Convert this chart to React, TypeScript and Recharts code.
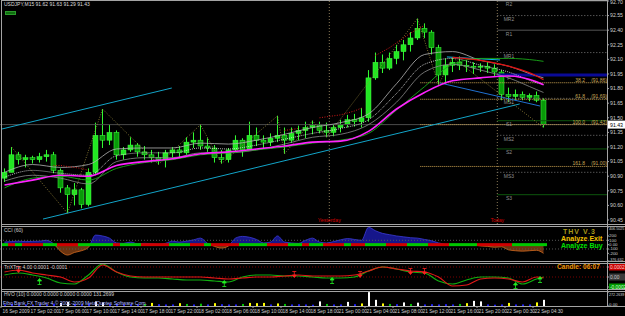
import React from "react";
import {
  ComposedChart,
  Bar,
  Line,
  Area,
  Scatter,
  XAxis,
  YAxis,
  ReferenceLine,
  Cell,
} from "recharts";

// USDJPY M15, read back as hourly bars: 16 Sep 2009 22:00 -> 22 Sep 05:00
const OPEN = [
  90.88, 90.94, 91.12, 91.07, 91.09, 91.07, 91.1, 91.12, 90.96, 90.78,
  90.71, 90.76, 90.61, 90.94, 91.32, 91.27, 91.35, 91.12, 91.17, 91.22,
  91.15, 91.12, 91.09, 91.07, 91.14, 91.17, 91.14, 91.25, 91.27, 91.21,
  91.19, 91.09, 91.07, 91.17, 91.27, 91.17, 91.32, 91.27, 91.25, 91.29,
  91.32, 91.27, 91.34, 91.37, 91.4, 91.42, 91.37, 91.35, 91.4, 91.43,
  91.48, 91.46, 91.5, 91.91, 92.07, 92.01, 92.11, 92.18, 92.25, 92.32,
  92.42, 92.38, 92.22, 91.94, 92.04, 92.07, 92.04, 92.03, 92.02, 92.03,
  92.01, 91.97, 91.74, 91.72, 91.74, 91.71, 91.73, 91.68,
];
const HIGH = [
  90.98, 91.2, 91.15, 91.12, 91.11, 91.14, 91.17, 91.15, 90.98, 90.81,
  90.83, 90.78, 90.98, 91.45, 91.59, 91.43, 91.37, 91.2, 91.3, 91.24,
  91.21, 91.17, 91.15, 91.17, 91.2, 91.21, 91.3, 91.35, 91.43, 91.29,
  91.22, 91.17, 91.19, 91.32, 91.29, 91.46, 91.4, 91.32, 91.34, 91.52,
  91.4, 91.4, 91.42, 91.46, 91.47, 91.46, 91.45, 91.43, 91.48, 91.53,
  91.54, 91.6, 91.99, 92.17, 92.15, 92.17, 92.25, 92.3, 92.38, 92.52,
  92.47, 92.4, 92.25, 92.11, 92.12, 92.13, 92.09, 92.07, 92.06, 92.07,
  92.05, 91.99, 91.81, 91.79, 91.77, 91.75, 91.77, 91.7,
];
const LOW = [
  90.84, 90.94, 91.02, 90.99, 91.03, 91.04, 91.05, 90.93, 90.73, 90.52,
  90.6, 90.57, 90.59, 90.91, 91.19, 91.22, 91.07, 91.07, 91.15, 91.1,
  91.07, 91.04, 91.02, 90.99, 91.09, 91.09, 91.12, 91.19, 91.17, 91.15,
  91.04, 91.03, 91.04, 91.15, 91.1, 91.17, 91.21, 91.19, 91.21, 91.25,
  91.13, 91.24, 91.27, 91.29, 91.33, 91.34, 91.3, 91.31, 91.35, 91.4,
  91.41, 91.4, 91.46, 91.89, 91.96, 91.99, 92.05, 92.09, 92.18, 92.3,
  92.32, 92.15, 91.84, 91.85, 91.97, 91.99, 91.97, 91.95, 91.97, 91.96,
  91.93, 91.68, 91.66, 91.68, 91.68, 91.67, 91.66, 91.4,
];
const CLOSE = [
  90.94, 91.12, 91.07, 91.09, 91.07, 91.1, 91.12, 90.96, 90.78, 90.71,
  90.76, 90.61, 90.94, 91.32, 91.27, 91.35, 91.12, 91.17, 91.22, 91.15,
  91.12, 91.09, 91.07, 91.14, 91.17, 91.14, 91.25, 91.27, 91.21, 91.19,
  91.09, 91.07, 91.17, 91.27, 91.17, 91.32, 91.27, 91.25, 91.29, 91.32,
  91.27, 91.34, 91.37, 91.4, 91.42, 91.37, 91.35, 91.4, 91.43, 91.48,
  91.46, 91.5, 91.91, 92.07, 92.01, 92.11, 92.18, 92.25, 92.32, 92.42,
  92.38, 92.22, 91.94, 92.04, 92.07, 92.04, 92.03, 92.02, 92.03, 92.01,
  91.97, 91.74, 91.72, 91.74, 91.71, 91.73, 91.68, 91.43,
];

// averages and ribbon, read every 4 bars (plus the last one)
const MA_BARS = [0, 4, 8, 12, 16, 20, 24, 28, 32, 36, 40, 44, 48, 52, 56, 60, 64, 68, 72, 76, 77];
const MA_SLOW = [90.81, 90.86, 90.91, 90.9, 91.01, 91.05, 91.08, 91.13, 91.15, 91.18, 91.21, 91.25, 91.26, 91.36, 91.59, 91.76, 91.88, 91.91, 91.93, 91.87, 91.84];
const BAND_UP = [90.94, 91.02, 90.99, 91.02, 91.18, 91.19, 91.19, 91.24, 91.23, 91.27, 91.33, 91.4, 91.45, 91.54, 91.85, 92.15, 92.18, 92.09, 92.03, 91.93, 91.91];
const BAND_MID = [90.89, 90.96, 90.93, 90.91, 91.11, 91.14, 91.14, 91.19, 91.18, 91.22, 91.28, 91.34, 91.39, 91.48, 91.75, 92.05, 92.11, 92.04, 91.97, 91.86, 91.84];
const BAND_LO = [90.85, 90.91, 90.88, 90.82, 91.05, 91.09, 91.09, 91.14, 91.14, 91.17, 91.23, 91.3, 91.33, 91.43, 91.66, 91.97, 92.05, 91.99, 91.91, 91.79, 91.76];
const MA_GREEN = [90.78, 90.88, 90.9, 90.86, 90.98, 91.04, 91.07, 91.12, 91.14, 91.17, 91.2, 91.24, 91.27, 91.34, 91.58, 91.82, 92.05, 92.11, 92.11, 92.09, 92.08];

const RED_BARS = [64, 68, 72, 76, 77];
const RED_LINE = [92.12, 92.09, 92.03, 91.93, 91.89];

const STOP_BARS = [7, 8, 9, 10, 11, 12, 40, 41, 42, 45, 46, 47, 48, 49, 50, 51, 53, 54, 55, 56, 57, 58, 59, 60];
const STOP_VALS = [91.01, 91.01, 91.0, 90.99, 90.98, 90.96, 91.37, 91.38, 91.39, 91.5, 91.51, 91.52, 91.53, 91.55, 91.57, 91.6, 92.14, 92.18, 92.22, 92.27, 92.32, 92.37, 92.41, 92.45];

const ZZ_BARS = [1, 9, 14, 22, 28, 31, 39, 40, 44, 46, 59, 62, 64, 77];
const ZZ_VALS = [91.2, 90.52, 91.59, 91.02, 91.43, 91.03, 91.52, 91.13, 91.47, 91.3, 92.52, 91.84, 92.12, 91.4];

// trend lines, [bar, price]
const UPPER_CH = [[-0.36, 91.385], [23.9, 91.806]];
const LOWER_CH = [[5.5, 90.46], [73.6, 91.642]];
const FALL_LINE = [[62.2, 91.858], [76.5, 91.621]];
const TOP_LINE = [[63.2, 92.125], [70.8, 92.094]];

const FIB_LEVELS = ["38.2", "61.8", "100.0", "161.8"];
const FIB_PRICES = [91.86, 91.69, 91.43, 91.0];
const FIB_FROM = 59.4;

const PIVOT_NAMES = ["R2", "MR2", "R1", "MR1", "P", "MS1", "S1", "MS2", "S2", "MS3", "S3"];
const PIVOT_PRICES = [92.7, 92.55, 92.4, 92.17, 91.94, 91.7, 91.47, 91.32, 91.18, 90.94, 90.71];

const DAY_BARS = [46.4, 70.4];
const DAY_NAMES = ["Yesterday", "Today"];

const PRICE_TICKS = [92.7, 92.55, 92.4, 92.25, 92.1, 91.95, 91.8, 91.65, 91.5, 91.35, 91.2, 91.05, 90.9, 90.75, 90.6, 90.45];

const TIME_BARS = [0, 4, 8, 12, 16, 20, 24, 28, 32, 36, 40, 44, 48, 52, 56, 60, 64, 68, 72, 76];
const TIME_LABELS = [
  "16 Sep 2009", "17 Sep 02:00", "17 Sep 06:00", "17 Sep 10:00", "17 Sep 14:00",
  "17 Sep 18:00", "17 Sep 22:00", "18 Sep 02:00", "18 Sep 06:00", "18 Sep 10:00",
  "18 Sep 14:00", "18 Sep 18:00", "21 Sep 00:00", "21 Sep 04:00", "21 Sep 08:00",
  "21 Sep 12:00", "21 Sep 16:00", "21 Sep 20:00", "22 Sep 00:30", "22 Sep 04:30",
];

// CCI(60), hourly
const CCI = [
  60, 70, 80, 70, 75, 80, 100, 20, -150, -240,
  -180, -140, -60, 220, 200, 150, 40, 30, 60, 20,
  30, 20, 10, 30, 80, 60, 80, 110, 150, 30,
  -40, -80, -30, 150, 190, 170, 120, 40, 60, 200,
  60, 40, 30, 100, 150, 60, 40, 70, 110, 140,
  120, 100, 400, 320, 260, 230, 200, 180, 160, 150,
  120, 90, 40, 10, 0, -10, 5, -5, -30, -40,
  -60, -50, -120, -140, -150, -140, -130, -200,
];
const CCI_MAX = 406.5025;
const CCI_MIN = -376.632;
const CCI_TICKS = [406.5025, 200, 100, 0, -100, -200, -376.632];
const CCI_TICK_TEXT = ["406.5025", "200", "100", "0.00", "-100", "-200", "-376.632"];
const TREND = ("grgrrrggrr" + "rgggggrggg" + "rrrrgggrrg" + "rrrrggggrr" + "rggrggrrrg" + "rrgggrrrgg" + "grrrggggrr" + "rrrggggg").split("");

// TriX, units of 0.0001, every 2 bars (plus the last)
const TRIX_BARS = [0, 2, 4, 6, 8, 10, 12, 14, 16, 18, 20, 22, 24, 26, 28, 30, 32, 34, 36, 38, 40, 42, 44, 46, 48, 50, 52, 54, 56, 58, 60, 62, 64, 66, 68, 70, 72, 74, 76, 77];
const TRIX_RED = [1.0, 1.4, 0.8, 0.4, 0, -1.0, -0.2, 2.4, 1.0, 0.2, 0, 0, 0, 0, 0, -0.2, -0.4, -0.2, 0, 0, 0.2, 0.4, 0.2, 0.2, 0.2, 0.4, 1.2, 2.0, 1.6, 1.2, 1.0, 0, -1.8, -1.6, -0.4, -0.2, -0.4, -1.0, 0, -0.2];
const TRIX_GREEN = [0.4, 0.8, 0.4, -0.2, -1.2, -1.4, 0.4, 2.6, 1.0, 0, -0.2, -0.2, -0.4, -0.6, -0.6, -0.8, -1.0, 0, 0.4, 0.4, 0.2, 0.2, 0, -0.2, -0.2, 0, 1.2, 2.0, 1.6, 1.0, 0.8, -0.8, -1.4, -0.6, 0, 0, -0.2, -1.4, -0.4, 0];
const ARROW_DN_BARS = [2, 41.4, 50.8, 58, 60];
const ARROW_DN_VALS = [1.4, 0.4, 0.4, 1.0, 1.0];
const ARROW_UP_BARS = [5, 31.4, 46.8, 73, 76.5];
const ARROW_UP_VALS = [-0.8, -1.2, -0.6, -1.6, -0.4];
const TRIX_BOX_VALUES = [2, 0, -2];
const TRIX_BOX_TEXT = ["0.0002", "0.00", "-0.0002"];

// HVO volume, hourly, with its colour class
const VOL = [
  30, 40, 25, 30, 25, 35, 30, 45, 60, 80,
  40, 35, 50, 90, 70, 45, 40, 30, 35, 30,
  40, 60, 35, 30, 30, 55, 40, 30, 45, 30,
  55, 35, 30, 30, 40, 60, 55, 60, 30, 50,
  40, 30, 35, 30, 25, 90, 40, 30, 30, 80,
  35, 50, 270, 120, 50, 40, 35, 70, 40, 65,
  30, 35, 30, 35, 30, 40, 55, 100, 90, 30,
  25, 30, 60, 30, 30, 30, 70, 120,
];
const VOL_KIND = ("bbbbbbbbww" + "bbbwwbbbbb" + "gybbbygbgb" + "ybbbgyyyby" + "gbbbbwgbbw" + "bywwygbwgw" + "bbbbbgywwb" + "bbybbbyw").split("");
const VOL_MAX = 272.2639;
const VOL_TICKS = [272.2639, 0];
const VOL_TICK_TEXT = ["272.2639", "0.00"];

const X0 = -0.643;
const X1 = 86.07;
const P_MIN = 90.409;
const P_MAX = 92.71;

const FRAME = "#a4a4a4";
const AXIS_TXT = "#cfcfcf";
const VOL_COLORS: Record<string, string> = { b: "#2020ff", y: "#ffff00", g: "#00c000", w: "#ffffff" };
const TRIX_BOX_FILL = ["#c80000", "#3a3a3a", "#009a00"];
const TRIX_BOX_INK = ["#ffd0d0", "#c8c8c8", "#d8ffd8"];

const pick = (bars: number[], vals: number[], i: number) => {
  const k = bars.indexOf(i);
  return k >= 0 ? vals[k] : null;
};

const rows = OPEN.map((o, i) => ({
  i,
  o,
  h: HIGH[i],
  l: LOW[i],
  c: CLOSE[i],
  range: [LOW[i], HIGH[i]],
  slow: pick(MA_BARS, MA_SLOW, i),
  up: pick(MA_BARS, BAND_UP, i),
  mid: pick(MA_BARS, BAND_MID, i),
  lo: pick(MA_BARS, BAND_LO, i),
  grn: pick(MA_BARS, MA_GREEN, i),
  red: pick(RED_BARS, RED_LINE, i),
  stop: pick(STOP_BARS, STOP_VALS, i),
  zz: pick(ZZ_BARS, ZZ_VALS, i),
  cci: CCI[i],
  zero: 0,
  trend: TREND[i],
  trixR: pick(TRIX_BARS, TRIX_RED, i),
  trixG: pick(TRIX_BARS, TRIX_GREEN, i),
  vol: VOL[i],
  volKind: VOL_KIND[i],
}));

const pivotTags = PIVOT_NAMES.map((name, k) => ({ i: 72.07, v: PIVOT_PRICES[k], name }));
const fibTags = FIB_LEVELS.map((lvl, k) => ({ i: X1, v: FIB_PRICES[k], lvl }));
const dayTags = DAY_NAMES.map((name, k) => ({ i: DAY_BARS[k], v: 90.44, name }));
const lastTag = [{ i: X1, v: CLOSE[CLOSE.length - 1] }];
const arrowsDn = ARROW_DN_BARS.map((i, k) => ({ i, v: ARROW_DN_VALS[k] }));
const arrowsUp = ARROW_UP_BARS.map((i, k) => ({ i, v: ARROW_UP_VALS[k] }));

const seg = (s: number[][]) => [
  { x: s[0][0], y: s[0][1] },
  { x: s[1][0], y: s[1][1] },
];

const BODY_W = 5;

function Candle(props: any) {
  const { x, y, width, height, payload } = props;
  if (x == null || payload == null) return null;
  const top = Math.min(y, y + height);
  const span = Math.abs(height);
  const rng = payload.h - payload.l || 1;
  const toY = (v: number) => top + ((payload.h - v) / rng) * span;
  const bTop = toY(Math.max(payload.o, payload.c));
  const bBot = toY(Math.min(payload.o, payload.c));
  const up = payload.c >= payload.o;
  const cx = x + width / 2;
  return (
    <g>
      <line x1={cx} x2={cx} y1={top} y2={top + span} stroke="#33ff33" strokeWidth={1} />
      <rect
        x={cx - BODY_W / 2}
        y={bTop}
        width={BODY_W}
        height={Math.max(1, bBot - bTop)}
        fill={up ? "#22e622" : "#089a08"}
        stroke="#44ff44"
        strokeWidth={0.5}
      />
    </g>
  );
}

function VolBar(props: any) {
  const { x, y, width, height, payload } = props;
  if (x == null || payload == null) return null;
  const cx = x + width / 2;
  return <rect x={cx - 1} y={y} width={2} height={Math.max(0, height)} fill={VOL_COLORS[payload.volKind]} />;
}

const PivotTag = (p: any) => (
  <text x={p.cx} y={p.cy + 5.5} fill="#8e8e8e" fontSize={5} textAnchor="middle">
    {p.payload.name}
  </text>
);

const FibTag = (p: any) => (
  <g fontSize={5} fill="#c8a858">
    <text x={p.cx - 22} y={p.cy - 1} textAnchor="end">
      {p.payload.lvl}
    </text>
    <text x={p.cx} y={p.cy - 1} textAnchor="end">
      ({p.payload.v.toFixed(2)})
    </text>
  </g>
);

const DayTag = (p: any) => (
  <text x={p.cx} y={p.cy + 1.5} fill="#d40000" fontSize={5.2} textAnchor="middle">
    {p.payload.name}
  </text>
);

const LastTag = (p: any) => (
  <g>
    <rect x={p.cx + 1} y={p.cy - 4} width={17} height={8} fill="#ffffff" />
    <text x={p.cx + 3} y={p.cy + 2} fill="#000" fontSize={5.2}>
      {p.payload.v.toFixed(2)}
    </text>
  </g>
);

const TrendCell = (p: any) => (
  <rect
    x={p.cx - 3.5}
    y={p.cy - 1.5}
    width={7}
    height={3}
    fill={p.payload.trend === "g" ? "#00c800" : "#d00000"}
  />
);

const ArrowDn = (p: any) => (
  <g stroke="#ff2020" fill="#ff2020" strokeWidth={0.8}>
    <line x1={p.cx - 2} x2={p.cx + 2} y1={p.cy - 3.5} y2={p.cy - 3.5} />
    <line x1={p.cx} x2={p.cx} y1={p.cy - 3.5} y2={p.cy} />
    <path d={`M${p.cx - 2},${p.cy} L${p.cx + 2},${p.cy} L${p.cx},${p.cy + 2.5} Z`} />
  </g>
);

const ArrowUp = (p: any) => (
  <g stroke="#22ee22" fill="#22ee22" strokeWidth={0.8}>
    <line x1={p.cx - 2} x2={p.cx + 2} y1={p.cy + 3.5} y2={p.cy + 3.5} />
    <line x1={p.cx} x2={p.cx} y1={p.cy + 3.5} y2={p.cy} />
    <path d={`M${p.cx - 2},${p.cy} L${p.cx + 2},${p.cy} L${p.cx},${p.cy - 2.5} Z`} />
  </g>
);

const PriceTick = (p: any) => (
  <text x={p.x} y={Math.max(p.y, 2.6) + 1.8} fontSize={5.2} fill={AXIS_TXT}>
    {Number(p.payload.value).toFixed(2)}
  </text>
);

const TrixTick = (p: any) => {
  const k = TRIX_BOX_VALUES.indexOf(p.payload.value);
  if (k < 0) return null;
  return (
    <g>
      <rect x={p.x - 1} y={p.y - 3.5} width={16} height={7} fill={TRIX_BOX_FILL[k]} />
      <text x={p.x} y={p.y + 1.8} fontSize={4.8} fill={TRIX_BOX_INK[k]}>
        {TRIX_BOX_TEXT[k]}
      </text>
    </g>
  );
};

const CciTick = (p: any) => {
  const k = CCI_TICKS.indexOf(p.payload.value);
  if (k < 0) return null;
  const y = Math.min(Math.max(p.y, 2.5), 33.5);
  const txt = CCI_TICK_TEXT[k];
  return (
    <text x={p.x - 1} y={y + 1.5} fontSize={txt.length > 5 ? 3.7 : 4.4} fill={AXIS_TXT}>
      {txt}
    </text>
  );
};

const VolTick = (p: any) => {
  const k = VOL_TICKS.indexOf(p.payload.value);
  if (k < 0) return null;
  const y = Math.min(Math.max(p.y, 3), 13);
  const txt = VOL_TICK_TEXT[k];
  return (
    <text x={p.x - 1} y={y + 1.5} fontSize={txt.length > 5 ? 3.7 : 4.4} fill={AXIS_TXT}>
      {txt}
    </text>
  );
};

const TimeTick = (p: any) => (
  <g>
    <line x1={p.x} x2={p.x} y1={p.y - 2} y2={p.y} stroke={FRAME} />
    <text x={p.x + 1.5} y={p.y + 5} fill={AXIS_TXT} fontSize={4.8}>
      {TIME_LABELS[p.index]}
    </text>
  </g>
);

const pivotStyle = (name: string) => {
  if (name === "P") return { stroke: "#0a0a96", strokeWidth: 3 };
  if (name.startsWith("M")) return { stroke: "#777777", strokeDasharray: "1 2" };
  if (name.startsWith("S")) return { stroke: "#0d560d" };
  return { stroke: "#555555" };
};

const hLine = (top: number, left = 1, width = 624) => (
  <div key={`h${top}`} style={{ position: "absolute", top, left, width, height: 1, background: FRAME }} />
);
const vLine = (left: number, top = 0, height = 307) => (
  <div key={`v${left}`} style={{ position: "absolute", top, left, width: 1, height, background: FRAME }} />
);

const smallTxt = (text: string, left: number, top: number, color = AXIS_TXT, size = 5) => (
  <div
    style={{
      position: "absolute",
      left,
      top,
      fontSize: size,
      lineHeight: 1,
      color,
      whiteSpace: "nowrap",
    }}
  >
    {text}
  </div>
);

const boldTxt = (text: string, left: number, top: number, color: string, size: number, spacing = 0) => (
  <div
    style={{
      position: "absolute",
      left,
      top,
      fontSize: size,
      fontWeight: 700,
      lineHeight: 1,
      color,
      letterSpacing: spacing,
      whiteSpace: "nowrap",
    }}
  >
    {text}
  </div>
);

const lineProps = { dot: false, activeDot: false, isAnimationActive: false } as const;

export default function App() {
  const zeroFrac = CCI_MAX / (CCI_MAX - CCI_MIN);
  return (
    <div
      style={{
        position: "absolute",
        left: 0,
        top: 0,
        width: 625,
        height: 316,
        background: "#000",
        overflow: "hidden",
        fontFamily: "'Liberation Sans', Arial, sans-serif",
      }}
    >
      {/* main price window */}
      <div style={{ position: "absolute", left: 0, top: 0 }}>
        <ComposedChart width={625} height={225} data={rows} margin={{ top: 0, right: 0, bottom: 1, left: 0 }}>
          <XAxis type="number" dataKey="i" domain={[X0, X1]} hide />
          <YAxis
            orientation="right"
            width={18}
            domain={[P_MIN, P_MAX]}
            ticks={PRICE_TICKS}
            interval={0}
            tick={PriceTick}
            tickSize={2}
            tickMargin={1}
            tickLine={{ stroke: FRAME }}
            axisLine={false}
          />
          <ReferenceLine y={CLOSE[CLOSE.length - 1]} stroke="#4a4a4a" />
          {DAY_BARS.map((b) => (
            <ReferenceLine key={b} x={b} stroke="#8a7a58" strokeDasharray="1 2" />
          ))}
          {PIVOT_NAMES.map((n, k) => (
            <ReferenceLine
              key={n}
              segment={[
                { x: DAY_BARS[1], y: PIVOT_PRICES[k] },
                { x: X1, y: PIVOT_PRICES[k] },
              ]}
              {...pivotStyle(n)}
            />
          ))}
          {FIB_PRICES.map((p) => (
            <ReferenceLine
              key={p}
              segment={[
                { x: FIB_FROM, y: p },
                { x: X1, y: p },
              ]}
              stroke="#c8a050"
              strokeDasharray="1 1"
            />
          ))}
          <ReferenceLine segment={seg(UPPER_CH)} stroke="#12a4c8" ifOverflow="hidden" />
          <ReferenceLine segment={seg(LOWER_CH)} stroke="#12a4c8" ifOverflow="hidden" />
          <ReferenceLine segment={seg(FALL_LINE)} stroke="#2070d0" ifOverflow="hidden" />
          <ReferenceLine segment={seg(TOP_LINE)} stroke="#10b8e8" ifOverflow="hidden" />

          <Bar dataKey="range" barSize={5} shape={Candle} isAnimationActive={false} activeBar={false} />

          <Line dataKey="zz" stroke="#9c8a3c" strokeWidth={0.8} strokeDasharray="1 1.5" connectNulls {...lineProps} />
          <Line dataKey="lo" type="monotone" stroke="#8a8a8a" strokeWidth={0.8} connectNulls {...lineProps} />
          <Line dataKey="mid" type="monotone" stroke="#e6e6e6" strokeWidth={0.8} strokeDasharray="1 1" connectNulls {...lineProps} />
          <Line dataKey="up" type="monotone" stroke="#b4b4b4" strokeWidth={0.8} connectNulls {...lineProps} />
          <Line dataKey="grn" type="monotone" stroke="#18a818" strokeWidth={0.9} connectNulls {...lineProps} />
          <Line dataKey="slow" type="monotone" stroke="#ff22ff" strokeWidth={1.6} connectNulls {...lineProps} />
          <Line dataKey="red" type="monotone" stroke="#e01010" strokeWidth={1.2} connectNulls {...lineProps} />
          <Line dataKey="stop" stroke="#d01818" strokeWidth={1} strokeDasharray="1 1.5" {...lineProps} />

          <Scatter data={pivotTags} dataKey="v" shape={PivotTag} isAnimationActive={false} />
          <Scatter data={fibTags} dataKey="v" shape={FibTag} isAnimationActive={false} />
          <Scatter data={dayTags} dataKey="v" shape={DayTag} isAnimationActive={false} />
          <Scatter data={lastTag} dataKey="v" shape={LastTag} isAnimationActive={false} />
        </ComposedChart>
      </div>

      {/* CCI window */}
      <div style={{ position: "absolute", left: 0, top: 226 }}>
        <ComposedChart width={625} height={36} data={rows} margin={{ top: 1, right: 0, bottom: 1, left: 0 }}>
          <defs>
            <linearGradient id="cciFill" gradientUnits="userSpaceOnUse" x1="0" y1="1" x2="0" y2="35">
              <stop offset={zeroFrac} stopColor="#16168a" />
              <stop offset={zeroFrac} stopColor="#6b3410" />
            </linearGradient>
            <linearGradient id="cciLine" gradientUnits="userSpaceOnUse" x1="0" y1="1" x2="0" y2="35">
              <stop offset={zeroFrac} stopColor="#3a3ad8" />
              <stop offset={zeroFrac} stopColor="#d2691e" />
            </linearGradient>
          </defs>
          <XAxis type="number" dataKey="i" domain={[X0, X1]} hide />
          <YAxis
            orientation="right"
            width={18}
            domain={[CCI_MIN, CCI_MAX]}
            ticks={CCI_TICKS}
            interval={0}
            tick={CciTick}
            tickSize={2}
            tickMargin={1}
            tickLine={{ stroke: FRAME }}
            axisLine={false}
          />
          <ReferenceLine y={100} stroke="#555" strokeDasharray="1 2" />
          <ReferenceLine y={-100} stroke="#555" strokeDasharray="1 2" />
          <Area
            dataKey="cci"
            type="monotone"
            baseValue={0}
            fill="url(#cciFill)"
            fillOpacity={1}
            stroke="url(#cciLine)"
            strokeWidth={0.8}
            activeDot={false}
            isAnimationActive={false}
          />
          <Scatter dataKey="zero" shape={TrendCell} isAnimationActive={false} />
        </ComposedChart>
      </div>

      {/* TriX window */}
      <div style={{ position: "absolute", left: 0, top: 263 }}>
        <ComposedChart width={625} height={27} data={rows} margin={{ top: 1, right: 0, bottom: 1, left: 0 }}>
          <XAxis type="number" dataKey="i" domain={[X0, X1]} hide />
          <YAxis
            orientation="right"
            width={18}
            domain={[-2.4, 2.6]}
            ticks={TRIX_BOX_VALUES}
            interval={0}
            tick={TrixTick}
            tickSize={2}
            tickMargin={1}
            tickLine={{ stroke: FRAME }}
            axisLine={false}
          />
          <ReferenceLine y={2} stroke="#7a0000" strokeDasharray="1 2" />
          <ReferenceLine y={0} stroke="#7a0000" strokeDasharray="1 2" />
          <Line dataKey="trixG" type="monotone" stroke="#10b010" strokeWidth={1.2} connectNulls {...lineProps} />
          <Line dataKey="trixR" type="monotone" stroke="#e01818" strokeWidth={1.2} connectNulls {...lineProps} />
          <Scatter data={arrowsDn} dataKey="v" shape={ArrowDn} isAnimationActive={false} />
          <Scatter data={arrowsUp} dataKey="v" shape={ArrowUp} isAnimationActive={false} />
        </ComposedChart>
      </div>

      {/* HVO volume window + time axis */}
      <div style={{ position: "absolute", left: 0, top: 291 }}>
        <ComposedChart width={625} height={25} data={rows} margin={{ top: 1, right: 0, bottom: 0, left: 0 }}>
          <XAxis
            type="number"
            dataKey="i"
            domain={[X0, X1]}
            ticks={TIME_BARS.map((b) => b - 0.5)}
            interval={0}
            height={10}
            tick={TimeTick}
            tickSize={2}
            tickMargin={0}
            tickLine={false}
            axisLine={false}
          />
          <YAxis
            orientation="right"
            width={18}
            domain={[0, VOL_MAX]}
            ticks={VOL_TICKS}
            interval={0}
            tick={VolTick}
            tickSize={2}
            tickMargin={1}
            tickLine={{ stroke: FRAME }}
            axisLine={false}
          />
          <Bar dataKey="vol" barSize={2} shape={VolBar} isAnimationActive={false} activeBar={false}>
            {rows.map((r) => (
              <Cell key={r.i} fill={VOL_COLORS[r.volKind]} />
            ))}
          </Bar>
        </ComposedChart>
      </div>

      {/* frames */}
      {hLine(0, 1, 606)}
      {hLine(224)}
      {hLine(226)}
      {hLine(261)}
      {hLine(263)}
      {hLine(289)}
      {hLine(291)}
      {hLine(306)}
      {vLine(1)}
      {vLine(607)}

      {/* texts */}
      {smallTxt("USDJPY,M15  91.62 91.63 91.29 91.43", 4, 1.5, "#dcdcdc")}
      <div
        style={{
          position: "absolute",
          left: 5,
          top: 11,
          width: 9,
          height: 2,
          background: "#0f6e0f",
          border: "1px solid #2a9a2a",
        }}
      />
      {smallTxt("CCI (60)", 4, 227.5)}
      {smallTxt("TriXTrix 4.00 0.0001 -0.0001", 4, 264.5)}
      {smallTxt("HVO (10) 0.0000 0.0000 0.0000 0.0000 131.2699", 4, 292)}
      {smallTxt("Fibo Bank FX Trader 4 \u00a9 2001-2009 MetaQuotes Software Corp.", 3, 300.5, "#b0b8ff")}
      {boldTxt("THV V.3", 563, 227.5, "#a89a1a", 7, 1)}
      {boldTxt("Analyze Exit", 561, 234.5, "#f0c000", 7)}
      {boldTxt("Analyze Buy", 561, 241.5, "#00e000", 7)}
      {boldTxt("Candle: 06:07", 557, 264, "#e8940a", 6.6)}
    </div>
  );
}
